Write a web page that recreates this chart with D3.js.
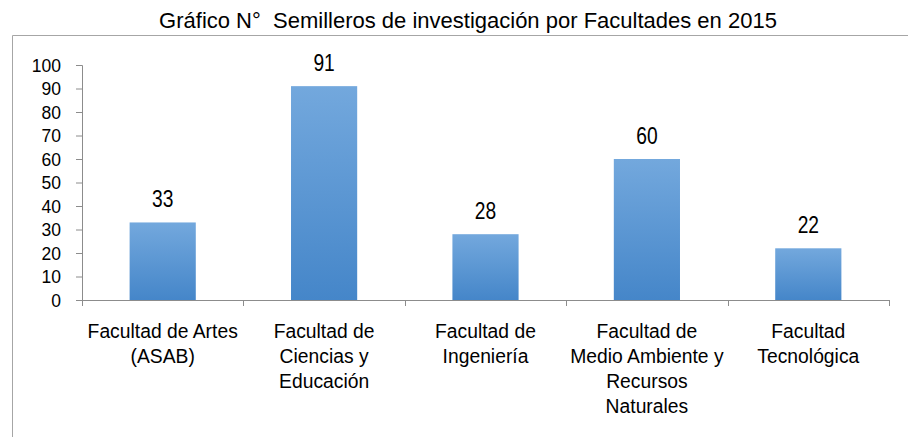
<!DOCTYPE html>
<meta charset="utf-8">
<script src="https://d3js.org/d3.v7.min.js"></script>
<style>
  body { margin: 0; background: #fff; }
  svg { display: block; }
  text { font-family: "Liberation Sans", Arial, sans-serif; fill: #000; }
  .title { font-size: 22px; white-space: pre; }
  .value { font-size: 24px; }
  .cat { font-size: 21px; }
  .yaxis text { font-size: 17.5px; }
</style>
<div id="chart"></div>
<script>
// data
var categories = [
  ["Facultad de Artes", "(ASAB)"],
  ["Facultad de", "Ciencias y", "Educación"],
  ["Facultad de", "Ingeniería"],
  ["Facultad de", "Medio Ambiente y", "Recursos", "Naturales"],
  ["Facultad", "Tecnológica"]
];
var values = [33, 91, 28, 60, 22];
var yTicks = [0, 10, 20, 30, 40, 50, 60, 70, 80, 90, 100];

var W = 908, H = 437;
var margin = {top: 65, right: 19, bottom: 137, left: 82},
    width = W - margin.left - margin.right,
    height = H - margin.top - margin.bottom;

var svg = d3.select("#chart").append("svg")
    .attr("width", W)
    .attr("height", H);

// gradient for bars
var grad = svg.append("defs").append("linearGradient")
    .attr("id", "barGrad")
    .attr("x1", 0).attr("y1", 0).attr("x2", 0).attr("y2", 1);
grad.append("stop").attr("offset", "0%").attr("stop-color", "#73a8dd");
grad.append("stop").attr("offset", "100%").attr("stop-color", "#4586c9");

// chart frame (cropped box)
svg.append("path")
    .attr("d", "M12.5," + H + "V35.5H" + W)
    .attr("fill", "none")
    .attr("stroke", "#a6a6a6")
    .attr("stroke-width", 1);

svg.append("text")
    .attr("class", "title")
    .attr("x", 468)
    .attr("y", 28)
    .attr("text-anchor", "middle")
    .text("Gráfico N°  Semilleros de investigación por Facultades en 2015");

var g = svg.append("g")
    .attr("transform", "translate(" + margin.left + "," + margin.top + ")");

var x = d3.scaleBand()
    .domain(d3.range(values.length))
    .range([0, width])
    .paddingInner(0.59)
    .paddingOuter(0.295);

var y = d3.scaleLinear()
    .domain([0, 100])
    .range([height, 0]);

// y axis
var yAxis = g.append("g")
    .attr("class", "yaxis")
    .call(d3.axisLeft(y).tickValues(yTicks).tickSize(6).tickPadding(15));
yAxis.select(".domain").attr("stroke", "#8c8c8c");
yAxis.selectAll(".tick line").attr("stroke", "#8c8c8c");
yAxis.selectAll(".tick text").attr("dy", "0.36em");

// x axis line with ticks at band boundaries
var step = width / values.length;
g.append("line")
    .attr("x1", 0).attr("x2", width)
    .attr("y1", height + 0.5).attr("y2", height + 0.5)
    .attr("stroke", "#8c8c8c");
g.selectAll(".xtick")
    .data(d3.range(values.length + 1))
    .enter().append("line")
    .attr("class", "xtick")
    .attr("x1", function(d) { return Math.round(d * step) + 0.5; })
    .attr("x2", function(d) { return Math.round(d * step) + 0.5; })
    .attr("y1", height)
    .attr("y2", height + 6)
    .attr("stroke", "#8c8c8c");

// bars
g.selectAll(".bar")
    .data(values)
    .enter().append("rect")
    .attr("class", "bar")
    .attr("x", function(d, i) { return x(i); })
    .attr("y", function(d) { return y(d); })
    .attr("width", x.bandwidth())
    .attr("height", function(d) { return height - y(d); })
    .attr("fill", "url(#barGrad)");

// value labels (narrow look)
g.selectAll(".value")
    .data(values)
    .enter().append("text")
    .attr("class", "value")
    .attr("text-anchor", "middle")
    .attr("transform", function(d, i) {
      return "translate(" + (x(i) + x.bandwidth() / 2) + "," + (y(d) - 15) + ") scale(0.8,1)";
    })
    .text(function(d) { return d; });

// category labels
var cat = g.selectAll(".cat")
    .data(categories)
    .enter().append("text")
    .attr("class", "cat")
    .attr("text-anchor", "middle")
    .attr("transform", function(d, i) {
      return "translate(" + (x(i) + x.bandwidth() / 2) + "," + (height + 38) + ") scale(0.92,1)";
    });
cat.selectAll("tspan")
    .data(function(d) { return d; })
    .enter().append("tspan")
    .attr("x", 0)
    .attr("y", function(d, i) { return i * 25; })
    .text(function(d) { return d; });
</script>
